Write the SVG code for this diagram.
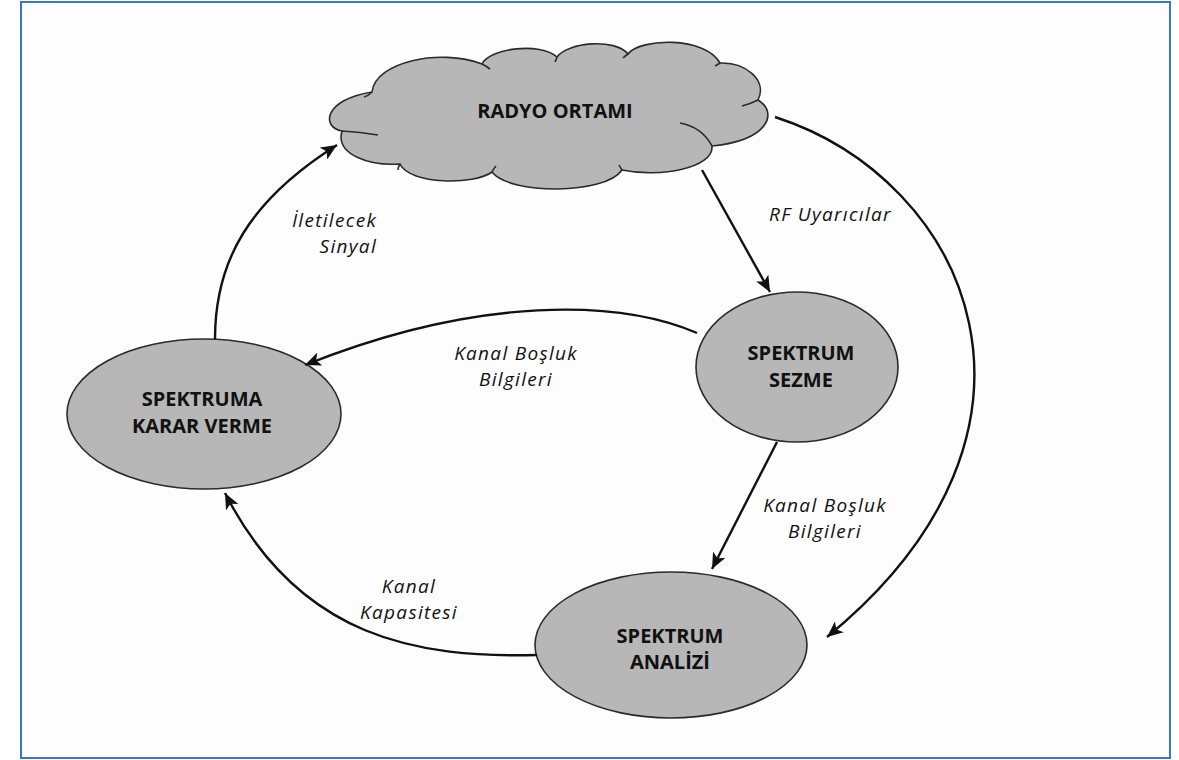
<svg xmlns="http://www.w3.org/2000/svg" width="1179" height="760" viewBox="0 0 1179 760">
  <defs>
    <marker id="arrow" markerUnits="userSpaceOnUse" markerWidth="18" markerHeight="14" refX="16" refY="7" orient="auto">
      <path d="M0,0 L16,7 L0,14 L4,7 z" fill="#111"/>
    </marker>
    <style>
      .frame { fill: #fdfdfd; stroke: #3a74cc; stroke-width: 2; }
      .node { fill: #b7b7b7; stroke: #2a2a2a; stroke-width: 1.6; }
      .inner { fill: none; stroke: #2a2a2a; stroke-width: 1.6; }
      .edge { fill: none; stroke: #111; stroke-width: 2.4; marker-end: url(#arrow); }
      .title { font-family: "Open Sans", "Liberation Sans", sans-serif; font-weight: bold; font-size: 20px; fill: #111; text-anchor: middle; }
      .label { font-family: "Open Sans", "Liberation Sans", sans-serif; font-style: italic; font-size: 19px; letter-spacing: 1.3px; fill: #111; }
    </style>
  </defs>

  <rect class="frame" x="21" y="2" width="1149" height="756"/>

  <!-- radio environment cloud -->
  <g id="radyo-ortami">
    <path class="node" d="M342,131
      C322,128 322,100 372,92
      C375,62 440,48 482,64
      C490,48 540,42 557,57
      C568,42 615,38 628,54
      C640,38 705,36 720,63
      C745,62 768,80 758,100
      C778,112 770,140 712,146
      C714,168 660,178 622,170
      C605,195 510,195 492,172
      C475,185 410,185 400,164
      C370,166 335,155 342,131 z"/>
    <path class="inner" d="M342,131 Q360,132 378,135"/>
    <path class="inner" d="M372,92 Q368,96 364,97"/>
    <path class="inner" d="M482,64 Q486,66 490,69"/>
    <path class="inner" d="M557,57 Q556,60 555,62"/>
    <path class="inner" d="M628,54 Q625,56 623,58"/>
    <path class="inner" d="M720,63 Q717,65 715,66"/>
    <path class="inner" d="M758,100 Q750,104 742,106"/>
    <path class="inner" d="M680,123 Q702,127 712,146"/>
    <path class="inner" d="M400,164 Q398,167 398,170"/>
    <path class="inner" d="M492,172 Q494,168 496,166"/>
    <path class="inner" d="M622,170 Q620,167 619,165"/>
    <text class="title" x="555" y="118" font-size="21">RADYO ORTAMI</text>
  </g>

  <g id="spektrum-sezme">
    <ellipse class="node" cx="797" cy="367" rx="101" ry="75"/>
    <text class="title" x="801" y="360">SPEKTRUM<tspan x="801" dy="27">SEZME</tspan></text>
  </g>

  <g id="spektruma-karar-verme">
    <ellipse class="node" cx="204" cy="414" rx="137" ry="75"/>
    <text class="title" x="202" y="406">SPEKTRUMA<tspan x="202" dy="27">KARAR VERME</tspan></text>
  </g>

  <g id="spektrum-analizi">
    <ellipse class="node" cx="671" cy="645" rx="136" ry="73"/>
    <text class="title" x="670" y="643">SPEKTRUM<tspan x="670" dy="26">ANALİZİ</tspan></text>
  </g>

  <g id="connectors">
    <!-- decision -> radio environment -->
    <path class="edge" d="M215,339 C215,260 250,200 337,145"/>
    <!-- radio environment -> sensing -->
    <path class="edge" d="M702,170 L770,292"/>
    <!-- radio environment -> analysis -->
    <path class="edge" d="M775,117 C970,180 1080,430 827,637"/>
    <!-- sensing -> decision -->
    <path class="edge" d="M697,333 C620,300 480,295 305,365"/>
    <!-- sensing -> analysis -->
    <path class="edge" d="M777,442 L712,569"/>
    <!-- analysis -> decision -->
    <path class="edge" d="M537,655 C420,658 300,640 225,493"/>

    <text class="label" x="377" y="226.5" text-anchor="end">İletilecek<tspan x="377" dy="26">Sinyal</tspan></text>
    <text class="label" x="769" y="221">RF Uyarıcılar</text>
    <text class="label" x="516" y="359.5" text-anchor="middle">Kanal Boşluk<tspan x="516" dy="26">Bilgileri</tspan></text>
    <text class="label" x="825" y="511.5" text-anchor="middle">Kanal Boşluk<tspan x="825" dy="26">Bilgileri</tspan></text>
    <text class="label" x="409" y="592.5" text-anchor="middle">Kanal<tspan x="409" dy="26">Kapasitesi</tspan></text>
  </g>
</svg>
